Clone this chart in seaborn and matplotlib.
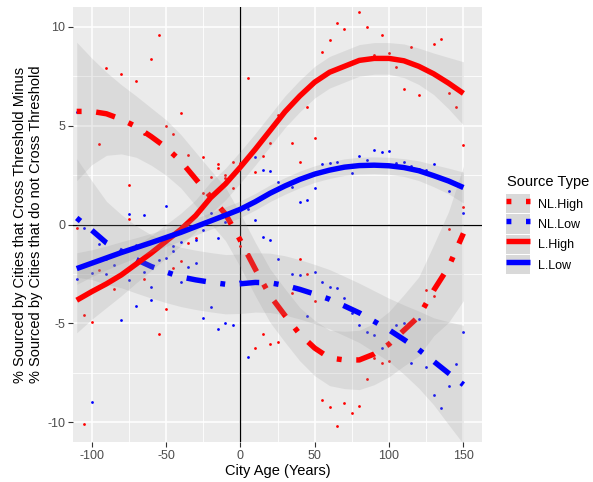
import matplotlib
matplotlib.use("Agg")
import matplotlib.pyplot as plt
import seaborn as sns
import pandas as pd
from matplotlib.lines import Line2D
from matplotlib.patches import Patch
from matplotlib.legend_handler import HandlerTuple

plt.rcParams['font.family'] = ['Liberation Sans', 'DejaVu Sans']

# ---------------- data ----------------
# smoothed curves (x = city age, every 10 years)
grid_x = [-110, -100, -90, -80, -70, -60, -50, -40, -30, -20, -10, 0, 10, 20,
          30, 40, 50, 60, 70, 80, 90, 100, 110, 120, 130, 140, 150]

nl_high = [5.72, 5.72, 5.6, 5.32, 4.95, 4.45, 3.9, 3.2, 2.3, 1.4, 0.53, -0.8, -2.25, -3.6,
           -4.6, -5.55, -6.25, -6.75, -6.85, -6.85, -6.55, -6.05, -5.35, -4.65, -3.33, -2.15, -0.45]
nl_high_ci = [3.5, 2.7, 2.1, 1.75, 1.55, 1.45, 1.4, 1.35, 1.35, 1.35, 1.35, 1.35, 1.35, 1.35,
              1.35, 1.35, 1.4, 1.4, 1.45, 1.5, 1.55, 1.65, 1.8, 2.0, 2.3, 2.8, 3.4]

nl_low = [0.33, -0.28, -0.93, -1.35, -1.77, -2.12, -2.4, -2.65, -2.8, -2.92, -3.02, -3.0, -2.93, -2.95,
          -3.08, -3.28, -3.52, -3.78, -4.12, -4.47, -4.9, -5.33, -5.82, -6.33, -6.92, -7.52, -8.1]
nl_low_ci = [3.0, 2.5, 2.1, 1.85, 1.7, 1.6, 1.55, 1.5, 1.5, 1.5, 1.5, 1.5, 1.5, 1.5,
             1.5, 1.5, 1.5, 1.5, 1.5, 1.5, 1.55, 1.6, 1.75, 1.95, 2.2, 2.6, 3.0]

l_high = [-3.83, -3.4, -3.0, -2.55, -2.0, -1.45, -0.85, -0.25, 0.45, 1.35, 2.05, 2.9, 3.8, 4.75,
          5.7, 6.5, 7.2, 7.7, 8.0, 8.3, 8.4, 8.4, 8.28, 8.0, 7.62, 7.15, 6.63]
l_high_ci = [1.65, 1.4, 1.2, 1.05, 0.95, 0.88, 0.85, 0.82, 0.8, 0.8, 0.8, 0.8, 0.8, 0.8,
             0.8, 0.8, 0.8, 0.8, 0.8, 0.8, 0.8, 0.8, 0.85, 0.92, 1.05, 1.3, 1.6]

l_low = [-2.23, -1.96, -1.69, -1.42, -1.17, -0.92, -0.66, -0.4, -0.11, 0.18, 0.47, 0.77, 1.15, 1.58,
         1.95, 2.28, 2.55, 2.75, 2.9, 2.98, 3.0, 2.97, 2.88, 2.72, 2.47, 2.2, 1.87]
l_low_ci = [0.8, 0.68, 0.6, 0.55, 0.5, 0.47, 0.45, 0.43, 0.42, 0.42, 0.42, 0.42, 0.42, 0.42,
            0.42, 0.42, 0.42, 0.42, 0.42, 0.42, 0.42, 0.43, 0.45, 0.5, 0.56, 0.65, 0.78]

# observed points (High = red, Low = blue)
red_x = [-110, -105, -105, -100, -95, -95, -90, -85, -80, -75, -75, -70, -65, -65, -60, -55, -55,
         -50, -50, -45, -45, -40, -40, -35, -35, -30, -25, -25, -20, -15, -15, -10, -10, -5, -5,
         0, 0, 5, 5, 10, 10, 15, 15, 20, 20, 25, 25, 35, 35, 40, 40, 45, 45, 50, 50, 55, 55,
         60, 60, 65, 65, 70, 70, 75, 80, 80, 85, 85, 90, 90, 95, 95, 100, 100, 105, 110, 115,
         120, 125, 130, 130, 135, 140, 140, 145, 150, 150]
red_y = [-0.2, -4.58, -10.09, -4.92, 4.06, -2.31, 7.9, -3.28, 7.6, 1.98, 0.27, 7.24, 4.6, -2.76, 8.38, 9.6, -5.56,
         5.0, -4.26, 4.6, -2.22, 5.64, -1.85, 3.5, -0.93, -0.67, 3.41, 1.6, 2.39, 3.05, 2.86, 2.49, 2.35, 3.16, 1.87,
         3.1, -1.1, 7.4, -1.47, 2.64, -6.26, 3.45, -5.56, 4.12, -6.05, 5.52, -5.96, 4.12, -3.45, 3.18, -1.77, 5.94, -2.51, 4.39, -3.86, 8.7, -8.87,
         9.32, -9.21, 10.2, -10.19, 9.9, -9.04, -9.51, 10.76, -9.16, 10.0, -7.83, 8.55, -6.77, 9.6, -7.02, 8.67, -6.89, 7.96, 6.83, 9.0,
         6.56, -3.32, 9.14, -3.6, 9.36, 6.65, -0.22, 5.94, 4.02, 0.86]

blue_x = [-110, -110, -105, -100, -100, -95, -90, -90, -85, -80, -75, -75, -70, -70, -65, -65, -60, -60,
          -55, -50, -50, -45, -45, -40, -40, -35, -30, -30, -25, -25, -20, -20, -15, -15, -10, -10, -5,
          0, 5, 5, 10, 10, 15, 15, 20, 20, 25, 25, 35, 35, 40, 40, 45, 45, 50, 50, 55, 55, 60, 60,
          65, 65, 70, 75, 75, 80, 80, 85, 85, 90, 90, 95, 95, 100, 105, 105, 110, 110, 115, 115,
          120, 120, 125, 125, 130, 130, 135, 140, 140, 145, 150, 150]
blue_y = [5.7, -2.76, -0.2, -2.44, -8.96, -1.01, -1.77, -2.51, -2.06, -4.83, 0.55, -2.81, -1.05, -4.13, 0.5, -2.39, -3.15, -3.82,
          -1.8, 0.94, -1.69, -1.1, -1.35, -0.88, -2.93, -2.14, -0.79, -1.94, -0.29, -4.72, 0.6, -4.18, -0.66, -5.29, 0.13, -4.97, -5.09,
          -2.85, 0.77, -6.72, 3.41, 0.23, 2.74, -0.61, 2.69, -0.76, 2.15, -1.77, 1.9, -2.51, 1.14, -2.56, 1.23, -4.63, 1.85, -2.4, 3.05, -2.93, 3.1, -3.15,
          3.18, -3.2, -3.74, 2.6, -4.5, 3.45, -5.09, 3.26, -5.42, 3.75, -5.59, 3.67, -6.26, 3.72, 3.1, -5.09, 3.18, -5.0, 2.96, -7.02,
          2.83, -4.8, 2.74, -7.19, 3.05, -8.62, -9.29, 1.7, -8.15, -7.07, 0.56, -5.42]

series_names = ["NL.High", "NL.Low", "L.High", "L.Low"]
series_vals = [nl_high, nl_low, l_high, l_low]
series_ci = [nl_high_ci, nl_low_ci, l_high_ci, l_low_ci]

x_ticks = [-100, -50, 0, 50, 100, 150]
y_ticks = [-10, -5, 0, 5, 10]

# ---------------- styling ----------------
colors = {"NL.High": "#FF0000", "NL.Low": "#0000FF", "L.High": "#FF0000", "L.Low": "#0000FF"}
dotdash = (0, (0.9, 2.7, 3.6, 2.7))
styles = {"NL.High": dotdash, "NL.Low": dotdash, "L.High": "-", "L.Low": "-"}
LW = 3.9

W, H = 593, 482
fig = plt.figure(figsize=(W / 100, H / 100), dpi=100)
ax = fig.add_axes([73 / W, 1 - 442 / H, 409 / W, 435 / H])
ax.set_facecolor("#EBEBEB")
for s in ax.spines.values():
    s.set_visible(False)

ax.set_xlim(-112.5, 162.5)
ax.set_ylim(-11, 11)
ax.set_xticks(x_ticks)
ax.set_yticks(y_ticks)
ax.set_xticklabels([str(t) for t in x_ticks])
ax.set_yticklabels([str(t) for t in y_ticks])
ax.set_xticks([-75, -25, 25, 75, 125], minor=True)
ax.set_yticks([-7.5, -2.5, 2.5, 7.5], minor=True)
ax.set_axisbelow(True)
ax.grid(which="major", color="white", lw=1.1)
ax.grid(which="minor", color="white", lw=0.6)
ax.tick_params(which="major", length=3.5, width=0.8, color="#333333",
               labelcolor="#4D4D4D", labelsize=9, pad=2)
ax.tick_params(which="minor", length=0)

ax.axhline(0, color="black", lw=0.9, zorder=1.5)
ax.axvline(0, color="black", lw=0.9, zorder=1.5)

pts_red = pd.DataFrame({"x": red_x, "y": red_y})
pts_blue = pd.DataFrame({"x": blue_x, "y": blue_y})
sns.scatterplot(data=pts_red, x="x", y="y", color="#FF0000", s=4, linewidth=0, ax=ax, zorder=2)
sns.scatterplot(data=pts_blue, x="x", y="y", color="#0000FF", s=4, linewidth=0, ax=ax, zorder=2)

z = 3
for name, vals, ci in zip(series_names, series_vals, series_ci):
    lo = [v - c for v, c in zip(vals, ci)]
    hi = [v + c for v, c in zip(vals, ci)]
    ax.fill_between(grid_x, lo, hi, color="#999999", alpha=0.2, lw=0, zorder=z)
    df = pd.DataFrame({"x": grid_x, "y": vals})
    sns.lineplot(data=df, x="x", y="y", color=colors[name], lw=LW, linestyle=styles[name],
                 ax=ax, zorder=z + 0.5, legend=False, solid_capstyle="butt", dash_capstyle="butt")
    z += 1

ax.set_xlabel("City Age (Years)", fontsize=10.5, color="black", labelpad=2)
ax.set_ylabel("% Sourced by Cities that Cross Threshold Minus\n% Sourced by Cities that do not Cross Threshold",
              fontsize=10.5, color="black", linespacing=1.15)
ax.yaxis.set_label_coords(-0.11, 0.5)
ax.yaxis.label.set_verticalalignment("center")

# legend
fig.text(507 / W, 1 - 182 / H, "Source Type", fontsize=10.5, ha="left", va="center")
key_fill = "#D9D9D9"
handles = []
for name in series_names:
    handles.append((Patch(facecolor=key_fill, edgecolor="none"),
                    Line2D([], [], color=colors[name], lw=LW, linestyle=styles[name],
                           solid_capstyle="butt", dash_capstyle="butt")))
leg = fig.legend(handles, series_names, handler_map={tuple: HandlerTuple(ndivide=1, pad=0)},
                 loc="upper left", bbox_to_anchor=(506 / W, 1 - 194 / H), frameon=False,
                 fontsize=9, handlelength=1.95, handleheight=2.0, labelspacing=0.08,
                 handletextpad=0.6, borderpad=0, borderaxespad=0)

fig.savefig("out.png", dpi=100)
